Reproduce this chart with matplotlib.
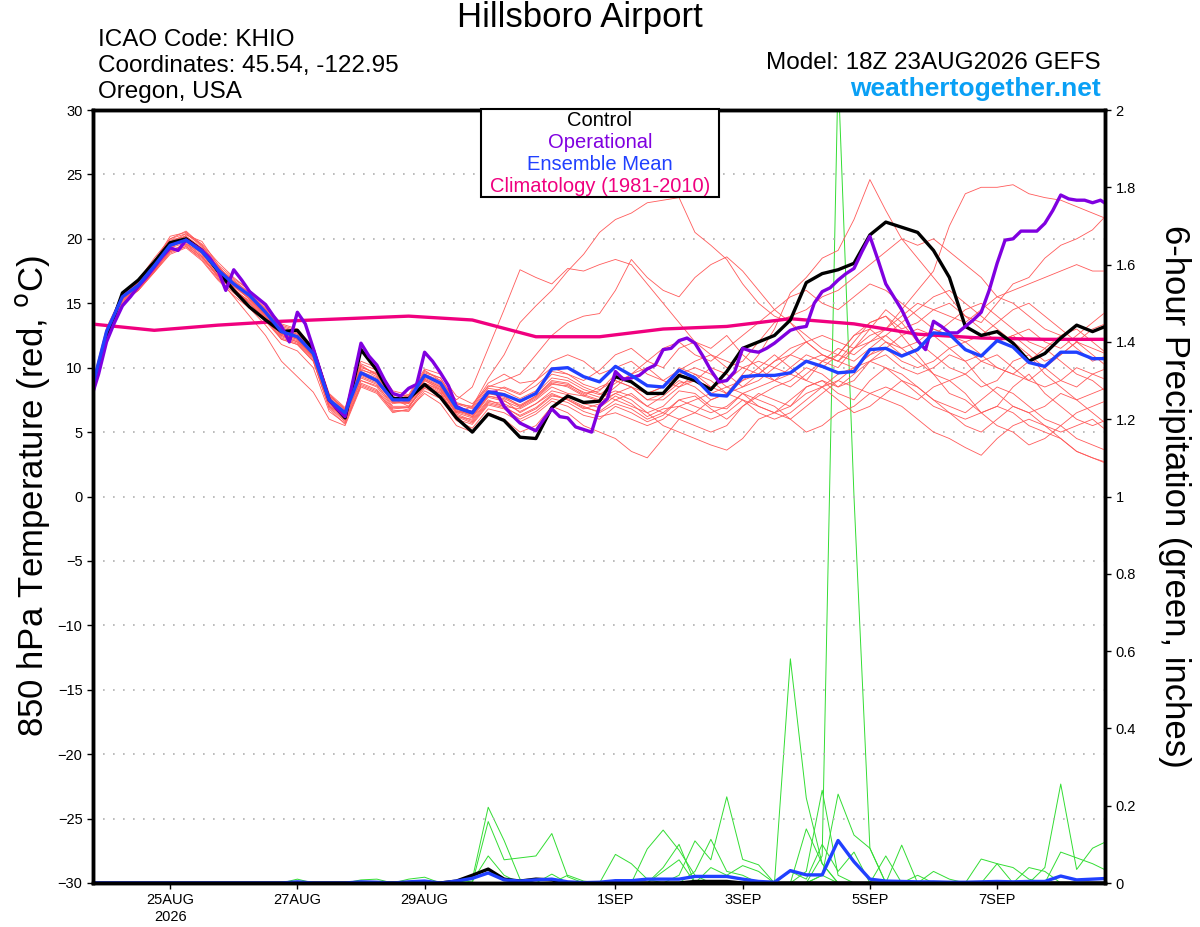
#GEFS plume for Hillsboro Airport: 850 hPa temperature + 6-hour precipitation
import datetime as dt
import numpy as np
import matplotlib
matplotlib.use('Agg')
import matplotlib.pyplot as plt
from matplotlib.patches import Rectangle

plt.rcParams['font.family'] = ['Liberation Sans', 'DejaVu Sans']

run_time = dt.datetime(2026, 8, 23, 18)  #model init 18Z 23AUG2026
step = 6  #hours between ensemble outputs
op_step = 3  #operational run is 3-hourly
clim_step = 24  #climatology is daily

#control run (black) 850 hPa temperature
control_t = [7.5, 12.3, 15.8, 16.8, 18.2, 19.7, 20.0, 19.1, 17.5, 16.0,
             14.7, 13.7, 12.8, 12.9, 11.4, 7.5, 6.1, 11.4, 9.8, 7.6,
             7.6, 8.7, 7.7, 6.1, 5.0, 6.4, 5.9, 4.6, 4.5, 6.9,
             7.8, 7.3, 7.4, 9.3, 8.9, 8.0, 8.0, 9.4, 9.0, 8.3,
             9.7, 11.5, 12.0, 12.5, 13.7, 16.6, 17.3, 17.6, 18.1, 20.3,
             21.3, 20.9, 20.5, 19.1, 17.0, 13.2, 12.5, 12.8, 11.9, 10.5,
             11.1, 12.3, 13.3, 12.8, 13.3]

#ensemble mean (blue)
mean_t = [8.0, 12.8, 15.5, 16.4, 17.9, 19.5, 19.9, 19.0, 17.6, 16.5,
          15.6, 14.3, 12.8, 12.4, 11.1, 7.5, 6.5, 9.6, 9.0, 7.5,
          7.5, 9.4, 8.8, 6.9, 6.5, 8.1, 7.9, 7.4, 8.0, 9.9,
          10.0, 9.3, 8.9, 10.1, 9.4, 8.6, 8.5, 9.8, 9.2, 7.9,
          7.8, 9.3, 9.4, 9.4, 9.6, 10.5, 10.1, 9.6, 9.7, 11.4,
          11.5, 10.9, 11.4, 12.7, 12.6, 11.4, 10.9, 12.1, 11.6, 10.4,
          10.1, 11.2, 11.2, 10.7, 10.7]

#operational run (purple), 3-hourly
oper_t = [7.5, 9.5, 12.0, 13.5, 14.8, 15.5, 16.3, 17.0, 17.8, 18.6,
          19.3, 19.1, 19.9, 19.5, 19.1, 18.5, 17.6, 16.0, 17.6, 16.8,
          15.9, 15.4, 14.9, 14.0, 13.2, 12.0, 14.3, 13.4, 11.5, 9.5,
          7.5, 6.8, 6.2, 9.0, 11.9, 10.9, 10.2, 9.0, 8.0, 7.8,
          8.4, 8.7, 11.2, 10.5, 9.6, 8.6, 7.0, 6.7, 6.5, 7.3,
          8.1, 8.1, 7.0, 6.3, 5.7, 5.4, 5.1, 6.0, 6.8, 6.2,
          6.1, 5.4, 5.2, 5.0, 7.0, 7.6, 9.7, 9.1, 9.2, 9.4,
          9.9, 10.2, 11.4, 11.5, 12.1, 12.3, 11.9, 10.9, 9.8, 8.9,
          9.0, 9.7, 11.5, 11.3, 11.2, 11.5, 11.9, 12.4, 12.9, 13.1,
          13.2, 15.0, 15.9, 16.2, 16.8, 17.3, 17.7, 19.0, 20.2, 18.4,
          16.5, 15.5, 14.5, 13.2, 12.1, 11.4, 13.6, 13.2, 12.7, 12.7,
          13.2, 13.7, 14.3, 16.0, 18.1, 19.9, 20.0, 20.6, 20.6, 20.6,
          21.2, 22.2, 23.4, 23.1, 23.0, 23.0, 22.8, 23.0, 22.6]

#climatology 1981-2010 (pink), daily
clim_t = [13.4, 12.9, 13.3, 13.6, 13.8, 14.0, 13.7, 12.4, 12.4, 13.0,
          13.2, 13.8, 13.4, 12.6, 12.3, 12.2, 12.2]

#ensemble members (thin red)
members_t = [
    [7.8, 12.5, 15.8, 16.8, 18.5, 20.0, 20.6, 19.5, 17.8, 16.8, 15.8, 14.5, 13.0, 12.2, 10.8, 7.2, 6.0,
     9.8, 9.5, 7.8, 7.2, 8.8, 8.2, 6.5, 7.0, 9.2, 11.0, 13.5, 14.8, 16.0, 17.5, 18.8, 20.5,
     21.5, 22.0, 22.8, 23.0, 23.2, 20.5, 19.5, 18.4, 16.5, 15.0, 14.0, 13.5, 12.0, 11.0, 10.5, 11.5,
     13.0, 14.5, 13.5, 12.0, 11.0, 10.0, 9.5, 8.5, 9.0, 10.5, 11.0, 10.0, 9.0, 8.5, 9.5, 10.0],
    [8.2, 13.0, 15.2, 16.0, 17.5, 19.2, 20.3, 19.8, 18.0, 16.2, 15.0, 13.8, 12.2, 11.8, 10.5, 7.0, 6.2,
     9.0, 8.6, 7.2, 7.4, 9.8, 9.0, 7.5, 8.5, 11.5, 14.5, 17.6, 17.0, 16.5, 17.7, 17.5, 18.0,
     18.4, 18.0, 16.5, 15.0, 13.5, 12.0, 11.5, 12.5, 11.0, 10.0, 9.0, 8.5, 9.5, 10.5, 11.0, 12.5,
     13.5, 14.0, 12.5, 11.0, 9.5, 8.0, 7.5, 6.5, 7.0, 8.5, 9.5, 8.0, 7.0, 6.0, 5.5, 6.0],
    [7.9, 12.6, 15.4, 16.6, 18.0, 19.8, 20.0, 18.8, 17.2, 16.0, 15.2, 14.0, 12.5, 12.0, 11.0, 7.8, 6.8,
     10.2, 9.4, 7.6, 7.0, 8.5, 8.0, 6.2, 6.0, 7.5, 7.0, 6.8, 7.5, 8.5, 8.0, 7.8, 8.5,
     9.0, 8.5, 7.5, 8.0, 9.0, 8.5, 7.5, 8.0, 9.5, 11.0, 13.0, 15.8, 17.0, 18.5, 19.1, 21.5,
     24.6, 22.2, 20.0, 18.5, 17.0, 15.5, 14.0, 13.0, 12.0, 12.5, 13.0, 12.0, 11.5, 12.5, 13.5, 14.5],
    [8.1, 12.9, 15.6, 16.5, 17.8, 19.4, 19.8, 19.2, 17.9, 16.6, 15.5, 14.2, 12.9, 12.6, 11.3, 7.6, 6.4,
     9.5, 9.0, 7.4, 7.6, 9.2, 8.6, 6.8, 6.2, 7.8, 7.5, 6.5, 7.2, 8.0, 7.5, 6.8, 7.2,
     8.0, 7.5, 6.5, 7.0, 8.2, 8.0, 7.0, 6.8, 8.0, 8.5, 9.0, 10.0, 11.0, 10.5, 10.0, 11.5,
     12.5, 13.0, 14.5, 16.0, 17.5, 21.0, 23.5, 24.0, 24.0, 24.2, 23.5, 23.2, 23.0, 22.5, 22.0, 21.5],
    [7.7, 12.4, 15.3, 16.2, 17.6, 19.0, 19.6, 18.9, 17.4, 16.3, 15.4, 14.0, 12.6, 12.2, 10.9, 7.3, 6.3,
     9.3, 8.8, 7.3, 7.3, 9.0, 8.4, 6.6, 6.4, 8.0, 7.8, 7.0, 7.8, 9.0, 8.8, 8.0, 8.2,
     9.5, 9.0, 8.0, 8.5, 10.0, 9.5, 8.5, 8.0, 9.0, 9.5, 10.5, 11.5, 12.0, 11.0, 10.5, 12.0,
     13.5, 14.0, 13.0, 13.5, 14.5, 15.0, 14.0, 13.5, 15.0, 16.5, 17.0, 18.5, 19.5, 20.0, 20.7, 22.0],
    [8.0, 12.7, 15.5, 16.3, 17.7, 19.3, 19.7, 18.7, 17.0, 15.5, 14.0, 12.5, 10.5, 9.3, 8.1, 6.0, 5.5,
     8.5, 8.0, 6.5, 6.8, 8.0, 7.2, 5.5, 5.0, 6.5, 6.0, 5.0, 5.5, 7.0, 6.5, 5.5, 5.0,
     4.5, 3.5, 3.0, 4.5, 6.0, 5.5, 5.0, 5.5, 7.0, 8.0, 7.5, 7.0, 8.5, 9.0, 8.0, 7.5,
     9.0, 10.0, 9.5, 8.5, 7.5, 6.5, 5.5, 5.0, 6.0, 7.0, 6.5, 5.5, 4.5, 3.5, 3.0, 2.6],
    [8.3, 13.1, 15.7, 16.7, 18.1, 19.9, 20.2, 19.3, 17.7, 16.7, 15.7, 14.6, 13.2, 12.8, 11.4, 7.9, 6.7,
     10.0, 9.6, 7.9, 7.8, 9.6, 9.2, 7.2, 6.8, 8.4, 8.2, 7.6, 8.2, 9.5, 9.2, 8.5, 8.0,
     7.5, 7.0, 6.5, 5.5, 5.0, 4.5, 4.0, 3.6, 4.5, 6.0, 6.5, 7.5, 8.5, 9.0, 8.5, 9.5,
     10.5, 11.0, 10.0, 9.5, 10.0, 11.0, 10.5, 9.0, 8.0, 7.0, 6.5, 7.0, 8.0, 7.5, 6.5, 5.5],
    [7.6, 12.3, 15.0, 16.0, 17.4, 18.9, 19.4, 18.5, 17.1, 16.0, 15.0, 13.7, 12.3, 11.9, 10.6, 6.9, 5.8,
     8.8, 8.3, 6.8, 6.9, 8.6, 8.0, 6.3, 5.8, 7.3, 7.0, 6.2, 6.8, 7.8, 7.6, 7.0, 6.5,
     7.2, 6.8, 6.0, 6.5, 7.5, 7.8, 6.8, 6.0, 7.0, 7.8, 8.5, 9.0, 10.0, 9.5, 8.5, 9.0,
     10.5, 11.5, 12.5, 13.0, 12.5, 11.5, 10.5, 11.0, 12.0, 12.5, 11.5, 10.5, 11.0, 12.0, 13.0, 13.5],
    [8.0, 12.8, 15.6, 16.5, 18.2, 20.2, 20.5, 19.6, 18.2, 17.0, 16.0, 14.8, 13.4, 13.0, 11.6, 8.0, 6.9,
     10.5, 10.0, 8.2, 7.9, 9.9, 9.5, 7.8, 7.2, 8.5, 9.0, 9.5, 11.0, 12.5, 13.5, 14.0, 14.2,
     16.0, 18.4, 17.0, 16.0, 15.5, 17.0, 18.0, 18.6, 17.5, 16.0, 14.5, 13.5, 12.5, 11.5, 11.0, 10.5,
     11.5, 12.5, 13.5, 14.5, 15.5, 16.0, 15.0, 14.0, 13.0, 12.0, 11.0, 9.5, 8.5, 7.5, 8.0, 8.5],
    [7.9, 12.6, 15.3, 16.3, 17.9, 19.6, 20.1, 19.1, 17.5, 16.4, 15.3, 14.1, 12.7, 12.3, 11.0, 7.4, 6.2,
     9.6, 9.1, 7.5, 7.4, 9.1, 8.5, 6.7, 6.3, 7.9, 8.5, 8.0, 9.0, 10.5, 11.0, 10.5, 9.5,
     10.0, 10.5, 9.5, 9.0, 9.8, 10.5, 11.0, 10.0, 10.5, 12.0, 13.5, 14.0, 14.5, 15.5, 16.0, 17.0,
     18.0, 19.0, 20.0, 19.5, 20.0, 19.0, 18.0, 17.0, 15.5, 15.0, 14.0, 13.0, 12.5, 13.0, 12.0, 11.0],
    [8.1, 12.7, 15.4, 16.2, 17.6, 19.1, 19.5, 18.6, 17.2, 16.1, 15.1, 13.9, 12.5, 12.1, 10.8, 7.1, 6.0,
     9.2, 8.7, 7.0, 7.0, 8.8, 8.3, 6.4, 5.9, 7.4, 7.2, 6.6, 7.2, 8.2, 7.9, 7.2, 6.9,
     7.8, 7.2, 6.2, 6.8, 7.0, 6.5, 6.0, 6.5, 7.5, 7.0, 6.5, 7.0, 8.0, 8.5, 7.5, 6.5,
     7.0, 8.0, 9.0, 8.5, 7.5, 7.0, 6.5, 7.5, 8.5, 8.0, 7.0, 6.0, 5.5, 4.5, 4.0, 3.5],
    [7.8, 12.5, 15.4, 16.4, 17.8, 19.4, 19.9, 19.0, 17.6, 16.4, 15.4, 14.1, 12.7, 12.3, 10.9, 7.3, 6.2,
     9.4, 8.9, 7.3, 7.2, 9.0, 8.3, 6.5, 6.1, 7.7, 7.4, 6.9, 7.6, 8.7, 8.6, 7.9, 7.5,
     8.5, 9.5, 10.0, 9.0, 8.5, 9.0, 10.0, 9.5, 8.5, 9.0, 10.0, 9.5, 9.0, 10.5, 11.5, 11.0,
     12.0, 12.5, 11.5, 10.5, 9.5, 9.0, 9.5, 10.5, 11.0, 10.0, 9.0, 8.5, 9.0, 10.0, 9.5, 9.0],
    [8.2, 12.9, 15.7, 16.6, 18.0, 19.7, 20.4, 19.4, 17.8, 16.6, 15.6, 14.4, 13.0, 12.6, 11.2, 7.7, 6.6,
     9.9, 9.3, 7.7, 7.6, 9.4, 8.9, 7.0, 6.6, 8.2, 8.0, 7.3, 8.0, 9.2, 9.0, 8.3, 7.9,
     8.8, 9.5, 10.5, 11.5, 12.0, 11.0, 10.5, 11.5, 12.5, 13.5, 14.5, 15.5, 16.0, 15.0, 14.5, 15.5,
     16.5, 16.0, 15.0, 14.0, 13.0, 12.5, 12.0, 12.5, 13.5, 14.5, 15.0, 14.0, 13.0, 12.0, 11.0, 10.0],
    [7.9, 12.6, 15.3, 16.1, 17.5, 19.0, 19.4, 18.4, 16.9, 15.8, 14.8, 13.6, 12.2, 11.8, 10.5, 6.8, 5.6,
     8.7, 8.2, 6.6, 6.7, 8.4, 7.8, 6.0, 5.6, 7.1, 6.8, 6.0, 6.6, 7.6, 7.3, 6.6, 6.2,
     6.5, 6.0, 5.5, 6.0, 7.0, 7.5, 8.0, 8.5, 8.0, 7.0, 6.5, 6.0, 7.0, 8.0, 9.0, 8.5,
     8.0, 7.5, 7.0, 6.0, 5.0, 4.5, 3.8, 3.2, 4.5, 5.5, 6.0, 5.5, 5.0, 5.5, 6.0, 5.0],
    [8.0, 12.8, 15.6, 16.6, 18.3, 20.0, 20.4, 19.5, 18.0, 16.9, 16.0, 14.7, 13.3, 12.9, 11.5, 7.9, 6.8,
     10.3, 9.8, 8.0, 7.7, 9.5, 9.0, 7.2, 7.0, 8.8, 9.5, 8.8, 9.0, 10.0, 9.5, 9.0, 9.8,
     11.0, 11.5, 10.5, 10.0, 11.5, 12.0, 11.0, 10.5, 10.0, 9.5, 9.0, 9.5, 10.5, 11.0, 10.5, 10.0,
     11.0, 12.0, 11.5, 12.0, 13.0, 12.5, 11.5, 10.5, 10.0, 9.5, 10.5, 11.5, 12.5, 11.5, 10.5, 11.0],
    [7.7, 12.4, 15.1, 16.0, 17.4, 18.8, 19.3, 18.3, 16.8, 15.6, 14.6, 13.3, 11.8, 11.3, 10.0, 6.6, 5.7,
     8.6, 8.1, 6.7, 6.6, 8.2, 7.6, 5.9, 5.3, 6.8, 6.5, 5.8, 6.4, 7.4, 7.0, 6.3, 6.0,
     7.0, 6.5, 5.8, 6.3, 7.5, 7.0, 6.5, 7.0, 8.0, 7.5, 7.0, 6.0, 5.0, 5.5, 6.5, 7.0,
     8.0, 8.5, 8.0, 7.5, 8.5, 9.0, 8.0, 6.5, 5.5, 5.0, 4.0, 4.5, 5.5, 6.5, 7.0, 7.5],
    [8.0, 12.7, 15.5, 16.4, 17.9, 19.5, 19.8, 18.9, 17.5, 16.3, 15.3, 14.0, 12.6, 12.2, 10.9, 7.3, 6.3,
     9.5, 9.0, 7.4, 7.3, 9.1, 8.5, 6.6, 6.2, 7.8, 7.6, 7.0, 7.7, 8.8, 8.5, 7.8, 7.4,
     8.0, 8.5, 7.5, 7.5, 8.5, 9.5, 9.0, 8.0, 8.5, 9.5, 10.5, 11.0, 10.5, 10.0, 11.0, 12.5,
     13.0, 12.0, 11.0, 11.5, 12.5, 13.5, 14.5, 15.0, 14.0, 13.0, 12.0, 11.5, 10.5, 9.5, 9.0, 8.0],
    [8.1, 12.9, 15.6, 16.5, 18.0, 19.6, 20.0, 19.1, 17.7, 16.6, 15.6, 14.3, 12.9, 12.5, 11.2, 7.5, 6.4,
     9.7, 9.2, 7.6, 7.5, 9.3, 8.7, 6.8, 6.4, 8.0, 7.7, 7.1, 7.8, 8.9, 8.7, 8.1, 7.7,
     8.2, 7.8, 7.0, 7.8, 8.8, 9.0, 8.5, 9.0, 10.0, 10.5, 10.0, 11.0, 12.0, 12.5, 12.0, 11.5,
     12.0, 13.0, 14.0, 15.0, 14.5, 14.0, 13.5, 14.5, 15.5, 16.0, 16.5, 17.0, 17.5, 18.0, 17.5, 17.5],
    [7.8, 12.5, 15.2, 16.1, 17.5, 19.1, 19.6, 18.6, 17.1, 16.0, 15.0, 13.8, 12.4, 12.0, 10.7, 7.0, 5.9,
     9.0, 8.5, 6.9, 6.9, 8.7, 8.1, 6.2, 5.7, 7.2, 6.9, 6.3, 6.9, 7.9, 7.5, 6.9, 6.6,
     7.5, 8.0, 7.0, 6.5, 6.0, 6.5, 7.5, 8.0, 7.5, 6.5, 6.0, 6.5, 7.5, 8.5, 9.5, 10.0,
     10.5, 10.0, 9.0, 8.0, 7.0, 6.5, 6.0, 6.5, 7.0, 6.5, 5.5, 5.0, 4.5, 3.5, 3.0, 2.5],
    [8.2, 13.0, 15.7, 16.6, 18.1, 19.8, 20.2, 19.2, 17.8, 16.7, 15.8, 14.5, 13.1, 12.7, 11.3, 7.8, 6.7,
     10.1, 9.5, 7.9, 7.8, 9.7, 9.2, 7.3, 6.9, 8.6, 8.4, 7.9, 8.6, 9.7, 9.5, 8.7, 8.3,
     9.0, 8.5, 8.0, 8.5, 9.5, 10.0, 9.5, 8.5, 9.0, 10.0, 11.0, 10.0, 9.0, 8.5, 9.0, 10.0,
     11.0, 11.5, 10.5, 10.0, 10.5, 11.5, 12.0, 11.0, 10.0, 9.5, 9.0, 10.0, 11.0, 12.0, 11.5, 11.0],
]

#6-hour precipitation (inches): control, ensemble mean, members (green)
control_p = [0, 0, 0, 0, 0, 0, 0, 0, 0, 0, 0, 0, 0, 0, 0, 0, 0, 0, 0, 0,
             0, 0, 0, 0.005, 0.02, 0.036, 0.01, 0.005, 0.01, 0.008, 0, 0, 0, 0, 0, 0, 0, 0, 0.004, 0.004,
             0.004, 0, 0, 0, 0, 0, 0, 0, 0, 0, 0, 0, 0, 0, 0, 0, 0, 0, 0, 0,
             0, 0, 0, 0, 0]
mean_p = [0, 0, 0, 0, 0, 0, 0, 0, 0, 0, 0, 0, 0, 0.003, 0, 0, 0, 0.003, 0.002, 0,
          0.003, 0.005, 0, 0.005, 0.012, 0.026, 0.008, 0.005, 0.008, 0.01, 0.003, 0.001, 0.002, 0.006, 0.006, 0.01, 0.01, 0.01, 0.017, 0.017,
          0.017, 0.01, 0.004, 0.002, 0.032, 0.021, 0.021, 0.11, 0.055, 0.01, 0.005, 0.004, 0.003, 0.003, 0.002, 0.002, 0.003, 0.004, 0.003, 0.004,
          0.004, 0.018, 0.008, 0.01, 0.012]
members_p = [
    [0, 0, 0, 0, 0, 0, 0, 0, 0, 0, 0, 0, 0, 0, 0, 0, 0, 0, 0, 0,
     0, 0, 0, 0, 0.01, 0.196, 0.11, 0.01, 0, 0, 0, 0, 0, 0, 0, 0, 0, 0, 0, 0,
     0, 0, 0, 0, 0, 0, 0.02, 0, 0, 0, 0, 0, 0, 0, 0, 0, 0, 0, 0, 0,
     0, 0, 0, 0, 0],
    [0, 0, 0, 0, 0, 0, 0, 0, 0, 0, 0, 0, 0, 0, 0, 0, 0, 0, 0, 0,
     0, 0, 0, 0, 0, 0.159, 0.06, 0.065, 0.07, 0.128, 0.016, 0, 0, 0, 0, 0, 0, 0, 0, 0,
     0, 0, 0, 0, 0, 0, 0, 0, 0, 0, 0, 0, 0, 0, 0, 0, 0, 0, 0, 0,
     0, 0, 0, 0, 0],
    [0, 0, 0, 0, 0, 0, 0, 0, 0, 0, 0, 0, 0, 0, 0, 0, 0, 0, 0, 0,
     0, 0, 0, 0, 0.005, 0.07, 0.02, 0, 0, 0.023, 0, 0, 0, 0.074, 0.05, 0.01, 0, 0, 0, 0,
     0, 0, 0, 0, 0, 0, 0, 0, 0, 0, 0, 0, 0, 0, 0, 0, 0, 0, 0, 0,
     0, 0, 0, 0, 0],
    [0, 0, 0, 0, 0, 0, 0, 0, 0, 0, 0, 0, 0, 0, 0, 0, 0, 0, 0, 0,
     0, 0, 0, 0, 0, 0, 0, 0, 0, 0, 0, 0, 0, 0, 0, 0.088, 0.137, 0.085, 0.02, 0,
     0, 0, 0, 0, 0, 0, 0, 0, 0, 0, 0, 0, 0, 0, 0, 0, 0, 0.05, 0, 0,
     0, 0, 0, 0, 0],
    [0, 0, 0, 0, 0, 0, 0, 0, 0, 0, 0, 0, 0, 0, 0, 0, 0, 0, 0, 0,
     0, 0, 0, 0, 0, 0, 0, 0, 0, 0, 0, 0, 0, 0, 0, 0, 0, 0.02, 0.109, 0.06,
     0.223, 0.061, 0.047, 0, 0, 0, 0, 0, 0, 0, 0, 0, 0, 0, 0, 0, 0, 0, 0, 0,
     0.04, 0.256, 0.035, 0.09, 0.11],
    [0, 0, 0, 0, 0, 0, 0, 0, 0, 0, 0, 0, 0, 0, 0, 0, 0, 0, 0, 0,
     0, 0, 0, 0, 0, 0, 0, 0, 0, 0, 0, 0, 0, 0, 0, 0, 0, 0, 0.03, 0.113,
     0.03, 0.02, 0, 0, 0, 0.14, 0.05, 0, 0, 0, 0, 0, 0, 0, 0, 0, 0, 0, 0, 0,
     0, 0, 0, 0, 0],
    [0, 0, 0, 0, 0, 0, 0, 0, 0, 0, 0, 0, 0, 0, 0, 0, 0, 0, 0, 0,
     0, 0, 0, 0, 0, 0, 0, 0, 0, 0, 0, 0, 0, 0, 0, 0, 0, 0, 0, 0,
     0, 0, 0, 0, 0.58, 0.22, 0.05, 0, 0, 0, 0, 0, 0.02, 0, 0, 0, 0, 0, 0, 0,
     0, 0, 0, 0, 0],
    [0, 0, 0, 0, 0, 0, 0, 0, 0, 0, 0, 0, 0, 0, 0, 0, 0, 0, 0, 0,
     0, 0, 0, 0, 0, 0, 0, 0, 0, 0, 0, 0, 0, 0, 0, 0, 0.03, 0.06, 0, 0,
     0, 0, 0, 0, 0, 0, 0.07, 2.1, 1.0, 0.09, 0, 0, 0, 0, 0, 0, 0, 0, 0, 0,
     0, 0, 0, 0, 0],
    [0, 0, 0, 0, 0, 0, 0, 0, 0, 0, 0, 0, 0, 0, 0, 0, 0, 0, 0, 0,
     0, 0, 0, 0, 0, 0, 0, 0, 0, 0, 0, 0, 0, 0, 0, 0, 0, 0, 0, 0,
     0, 0, 0, 0, 0, 0.03, 0.24, 0.02, 0, 0, 0.07, 0, 0, 0, 0, 0, 0, 0, 0, 0,
     0, 0, 0, 0, 0],
    [0, 0, 0, 0, 0, 0, 0, 0, 0, 0, 0, 0, 0, 0, 0, 0, 0, 0, 0, 0,
     0, 0, 0, 0, 0, 0, 0, 0, 0, 0, 0, 0, 0, 0, 0, 0, 0, 0, 0, 0,
     0, 0, 0, 0, 0, 0, 0.02, 0.23, 0.124, 0.09, 0, 0.098, 0, 0, 0, 0, 0, 0, 0, 0,
     0, 0, 0, 0, 0],
    [0, 0, 0, 0, 0, 0, 0, 0, 0, 0, 0, 0, 0, 0, 0, 0, 0, 0, 0, 0,
     0, 0, 0, 0, 0, 0, 0, 0, 0, 0, 0, 0, 0, 0, 0, 0, 0, 0, 0, 0,
     0, 0, 0, 0, 0, 0, 0, 0, 0, 0, 0, 0, 0, 0, 0, 0, 0.062, 0.05, 0.04, 0.01,
     0, 0.08, 0.065, 0.05, 0.03],
    [0, 0, 0, 0, 0, 0, 0, 0, 0, 0, 0, 0, 0, 0, 0, 0, 0, 0, 0, 0,
     0, 0, 0, 0, 0, 0, 0, 0, 0, 0, 0, 0, 0, 0, 0, 0, 0, 0, 0, 0.04,
     0.02, 0.045, 0.03, 0, 0, 0, 0, 0, 0, 0, 0, 0, 0, 0.03, 0.01, 0, 0, 0, 0, 0.04,
     0.03, 0, 0, 0, 0],
    [0, 0, 0, 0, 0, 0, 0, 0, 0, 0, 0, 0, 0, 0.01, 0, 0, 0, 0.008, 0.01, 0,
     0.01, 0.015, 0, 0, 0, 0, 0, 0, 0, 0, 0.02, 0.005, 0, 0, 0, 0, 0, 0, 0, 0,
     0, 0, 0, 0, 0, 0, 0, 0, 0, 0, 0, 0, 0, 0, 0, 0, 0, 0, 0, 0,
     0, 0, 0, 0, 0],
    [0, 0, 0, 0, 0, 0, 0, 0, 0, 0, 0, 0, 0, 0, 0, 0, 0, 0, 0, 0,
     0, 0, 0, 0, 0, 0, 0, 0, 0, 0, 0, 0, 0, 0, 0, 0, 0.04, 0.1, 0, 0,
     0, 0, 0, 0, 0.03, 0.01, 0.1, 0.03, 0.08, 0, 0, 0, 0, 0, 0, 0, 0, 0, 0, 0,
     0, 0, 0, 0, 0],
]

#x tick labels at 00Z
tick_days = [dt.datetime(2026, 8, 25), dt.datetime(2026, 8, 27), dt.datetime(2026, 8, 29),
             dt.datetime(2026, 9, 1), dt.datetime(2026, 9, 3), dt.datetime(2026, 9, 5),
             dt.datetime(2026, 9, 7)]
tick_labels = ['25AUG\n2026', '27AUG', '29AUG', '1SEP', '3SEP', '5SEP', '7SEP']

#hours since init for every series
hrs = np.arange(len(control_t)) * step
op_hrs = np.arange(len(oper_t)) * op_step
clim_hrs = np.arange(len(clim_t)) * clim_step
tick_hrs = [(d - run_time).total_seconds() / 3600 for d in tick_days]

fig = plt.figure(figsize=(12, 9.27), dpi=100)
ax = fig.add_axes([93/1200, 1 - 883/927, 1012/1200, 773/927])
ax2 = ax.twinx()
ax.set_zorder(ax2.get_zorder() + 1)  #temperature lines on top of precip
ax.patch.set_visible(False)

#precipitation (right axis)
for m in members_p:
    ax2.plot(hrs, m, color='#33dd33', lw=0.7)
ax2.plot(hrs, control_p, color='black', lw=2.4)
ax2.plot(hrs, mean_p, color='#2040ff', lw=2.4)

#temperature (left axis)
for m in members_t:
    ax.plot(hrs, m, color='#ff5a5a', lw=0.6)
ax.plot(clim_hrs, clim_t, color='#f0007f', lw=2.4)
ax.plot(hrs, control_t, color='black', lw=2.4)
ax.plot(op_hrs, oper_t, color='#8000e0', lw=2.4)
ax.plot(hrs, mean_t, color='#2040ff', lw=2.4)

ax.set_xlim(0.9, 382.7)
ax.set_ylim(-30, 30)
ax2.set_ylim(0, 2)
ax.set_yticks(np.arange(-30, 31, 5))
ax2.set_yticks(np.arange(0, 2.01, 0.2))
ax2.set_yticklabels([f'{v:g}' for v in np.arange(0, 2.01, 0.2).round(1)])
ax.set_xticks(tick_hrs)
ax.set_xticklabels(tick_labels)
for g in np.arange(-25, 30, 5):
    ax.axhline(g, color='#b0b0b0', lw=1.2, ls=(0, (1, 5)), zorder=0)

for a in (ax, ax2):
    for s in a.spines.values():
        s.set_linewidth(2.5)
    a.tick_params(labelsize=10.5, length=4, width=1)

ax.set_ylabel(r'850 hPa Temperature (red, $^{\rm o}$C)', fontsize=25, va='center')
ax.yaxis.set_label_coords(-0.060, 0.5)
ax2.set_ylabel('6-hour Precipitation (green, inches)', fontsize=25, rotation=-90, va='center')
ax2.yaxis.set_label_coords(1.069, 0.5)

#header texts
fig.text(580/1200, 1 - 18/927, 'Hillsboro Airport', ha='center', va='center', fontsize=25)
fig.text(98/1200, 1 - 40/927, 'ICAO Code: KHIO', ha='left', va='center', fontsize=17.5)
fig.text(98/1200, 1 - 66/927, 'Coordinates: 45.54, -122.95', ha='left', va='center', fontsize=17.5)
fig.text(98/1200, 1 - 92/927, 'Oregon, USA', ha='left', va='center', fontsize=17.5)
fig.text(1101/1200, 1 - 63/927, 'Model: 18Z 23AUG2026 GEFS', ha='right', va='center', fontsize=17.5)
fig.text(1101/1200, 1 - 89/927, 'weathertogether.net', ha='right', va='center', fontsize=19,
         color='#0aa0f5', fontweight='bold')

#legend box
fig.patches.append(Rectangle((481/1200, 1 - 197/927), 238/1200, 88/927, transform=fig.transFigure,
                             facecolor='white', edgecolor='black', lw=1.5, zorder=5))
leg_items = [('Control', 'black'), ('Operational', '#8000e0'), ('Ensemble Mean', '#2040ff'),
             ('Climatology (1981-2010)', '#f0007f')]
for k, (txt, col) in enumerate(leg_items):
    fig.text(600/1200, 1 - (121 + 21.7*k)/927, txt, ha='center', va='center', fontsize=14.5,
             color=col, zorder=6)

fig.savefig('out.png', dpi=100)
